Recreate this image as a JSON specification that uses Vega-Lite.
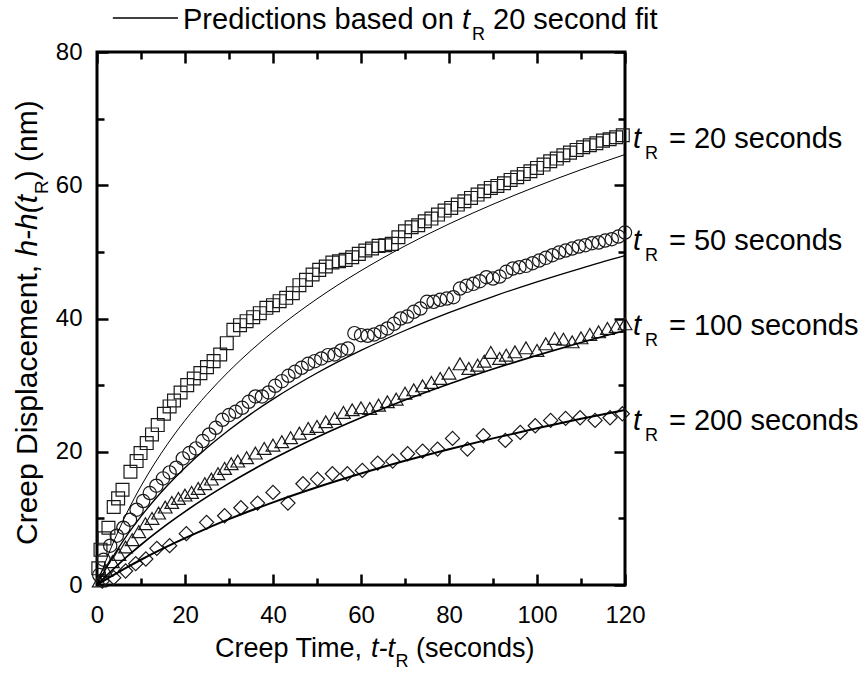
{
  "$schema": "https://vega.github.io/schema/vega-lite/v6.json",
  "width": 528,
  "height": 533,
  "autosize": {"type": "none"},
  "padding": {"left": 97, "top": 52, "right": 236, "bottom": 96},
  "config": {
    "view": {"stroke": "black", "strokeWidth": 3},
    "font": "Liberation Sans",
    "text": {"font": "Liberation Sans", "color": "black"},
    "axis": {"title": null, "domain": false, "grid": false, "tickWidth": 2.5, "tickColor": "black",
      "labelFont": "Liberation Sans", "labelFontSize": 24, "labelColor": "black",
      "labelFlush": false, "labelOverlap": false, "labelBound": false}
  },
  "datasets": {
    "pts": [
      {"s":"20","t":0.3,"v":2.5},{"s":"20","t":0.8,"v":5.3},{"s":"20","t":1.7,"v":7.0},{"s":"20","t":2.6,"v":8.6},{"s":"20","t":3.8,"v":11.7},{"s":"20","t":4.8,"v":13.0},{"s":"20","t":5.8,"v":14.3},{"s":"20","t":7.6,"v":17.0},{"s":"20","t":9.0,"v":18.6},{"s":"20","t":9.9,"v":19.8},{"s":"20","t":11.3,"v":21.3},{"s":"20","t":12.5,"v":22.6},{"s":"20","t":13.8,"v":24.0},{"s":"20","t":15.2,"v":25.7},{"s":"20","t":16.5,"v":26.8},{"s":"20","t":17.5,"v":27.7},{"s":"20","t":19.0,"v":28.9},{"s":"20","t":20.5,"v":30.0},{"s":"20","t":22.0,"v":31.0},{"s":"20","t":23.5,"v":31.8},{"s":"20","t":25.0,"v":32.7},{"s":"20","t":26.5,"v":33.6},{"s":"20","t":28.0,"v":34.6},{"s":"20","t":29.5,"v":36.3},{"s":"20","t":31.0,"v":38.3},{"s":"20","t":32.5,"v":39.0},{"s":"20","t":34.0,"v":39.6},{"s":"20","t":35.5,"v":40.2},{"s":"20","t":37.0,"v":40.8},{"s":"20","t":38.5,"v":41.6},{"s":"20","t":40.0,"v":42.0},{"s":"20","t":41.5,"v":42.6},{"s":"20","t":43.0,"v":43.1},{"s":"20","t":44.5,"v":43.8},{"s":"20","t":46.0,"v":45.0},{"s":"20","t":47.5,"v":45.8},{"s":"20","t":49.0,"v":46.6},{"s":"20","t":50.5,"v":47.3},{"s":"20","t":52.0,"v":47.8},{"s":"20","t":53.5,"v":48.4},{"s":"20","t":55.0,"v":48.6},{"s":"20","t":56.5,"v":48.8},{"s":"20","t":58.0,"v":49.2},{"s":"20","t":59.5,"v":49.7},{"s":"20","t":61.0,"v":50.2},{"s":"20","t":62.5,"v":50.5},{"s":"20","t":64.0,"v":50.9},{"s":"20","t":65.5,"v":51.0},{"s":"20","t":67.0,"v":51.2},{"s":"20","t":68.5,"v":52.2},{"s":"20","t":70.0,"v":53.1},{"s":"20","t":71.5,"v":53.7},{"s":"20","t":73.0,"v":54.0},{"s":"20","t":74.5,"v":54.6},{"s":"20","t":76.0,"v":55.0},{"s":"20","t":77.5,"v":55.6},{"s":"20","t":79.0,"v":56.2},{"s":"20","t":80.5,"v":56.6},{"s":"20","t":82.0,"v":57.1},{"s":"20","t":83.5,"v":57.6},{"s":"20","t":85.0,"v":58.1},{"s":"20","t":86.5,"v":58.6},{"s":"20","t":88.0,"v":59.1},{"s":"20","t":89.5,"v":59.6},{"s":"20","t":91.0,"v":59.9},{"s":"20","t":92.5,"v":60.3},{"s":"20","t":94.0,"v":60.8},{"s":"20","t":95.5,"v":61.2},{"s":"20","t":97.0,"v":61.7},{"s":"20","t":98.5,"v":62.1},{"s":"20","t":100.0,"v":62.6},{"s":"20","t":101.5,"v":63.1},{"s":"20","t":103.0,"v":63.6},{"s":"20","t":104.5,"v":64.0},{"s":"20","t":106.0,"v":64.5},{"s":"20","t":107.5,"v":64.9},{"s":"20","t":109.0,"v":65.3},{"s":"20","t":110.5,"v":65.7},{"s":"20","t":112.0,"v":66.0},{"s":"20","t":113.5,"v":66.3},{"s":"20","t":115.0,"v":66.7},{"s":"20","t":116.5,"v":66.9},{"s":"20","t":118.0,"v":67.2},{"s":"20","t":119.5,"v":67.5},
      {"s":"50","t":0.5,"v":1.5},{"s":"50","t":1.5,"v":3.8},{"s":"50","t":3.0,"v":5.9},{"s":"50","t":4.5,"v":7.4},{"s":"50","t":6.0,"v":8.6},{"s":"50","t":7.5,"v":9.8},{"s":"50","t":9.0,"v":11.3},{"s":"50","t":10.5,"v":12.6},{"s":"50","t":12.0,"v":13.8},{"s":"50","t":13.5,"v":14.9},{"s":"50","t":15.0,"v":16.0},{"s":"50","t":16.5,"v":16.9},{"s":"50","t":18.0,"v":17.6},{"s":"50","t":19.5,"v":19.0},{"s":"50","t":21.0,"v":19.8},{"s":"50","t":22.5,"v":20.5},{"s":"50","t":24.0,"v":21.6},{"s":"50","t":25.5,"v":22.6},{"s":"50","t":27.0,"v":23.6},{"s":"50","t":28.5,"v":24.8},{"s":"50","t":30.0,"v":25.5},{"s":"50","t":31.5,"v":26.0},{"s":"50","t":33.0,"v":26.6},{"s":"50","t":34.5,"v":27.5},{"s":"50","t":36.0,"v":28.3},{"s":"50","t":37.5,"v":28.3},{"s":"50","t":39.0,"v":28.9},{"s":"50","t":40.5,"v":29.9},{"s":"50","t":42.0,"v":30.6},{"s":"50","t":43.5,"v":31.4},{"s":"50","t":45.0,"v":32.0},{"s":"50","t":46.5,"v":32.6},{"s":"50","t":48.0,"v":33.2},{"s":"50","t":49.5,"v":33.6},{"s":"50","t":51.0,"v":34.0},{"s":"50","t":52.5,"v":34.5},{"s":"50","t":54.0,"v":34.6},{"s":"50","t":55.5,"v":35.2},{"s":"50","t":57.0,"v":35.5},{"s":"50","t":58.5,"v":37.8},{"s":"50","t":60.0,"v":37.5},{"s":"50","t":61.5,"v":37.4},{"s":"50","t":63.0,"v":37.6},{"s":"50","t":64.5,"v":38.0},{"s":"50","t":66.0,"v":38.5},{"s":"50","t":67.5,"v":39.2},{"s":"50","t":69.0,"v":40.0},{"s":"50","t":70.5,"v":40.3},{"s":"50","t":72.0,"v":41.0},{"s":"50","t":73.5,"v":41.5},{"s":"50","t":75.0,"v":42.5},{"s":"50","t":76.5,"v":42.5},{"s":"50","t":78.0,"v":42.8},{"s":"50","t":79.5,"v":43.0},{"s":"50","t":81.0,"v":43.2},{"s":"50","t":82.5,"v":44.5},{"s":"50","t":84.0,"v":44.9},{"s":"50","t":85.5,"v":45.2},{"s":"50","t":87.0,"v":45.6},{"s":"50","t":88.5,"v":46.2},{"s":"50","t":90.0,"v":46.0},{"s":"50","t":91.5,"v":46.3},{"s":"50","t":93.0,"v":47.0},{"s":"50","t":94.5,"v":47.5},{"s":"50","t":96.0,"v":47.7},{"s":"50","t":97.5,"v":47.9},{"s":"50","t":99.0,"v":48.3},{"s":"50","t":100.5,"v":48.7},{"s":"50","t":102.0,"v":49.1},{"s":"50","t":103.5,"v":49.5},{"s":"50","t":105.0,"v":49.9},{"s":"50","t":106.5,"v":50.2},{"s":"50","t":108.0,"v":50.5},{"s":"50","t":109.5,"v":50.8},{"s":"50","t":111.0,"v":51.0},{"s":"50","t":112.5,"v":51.3},{"s":"50","t":114.0,"v":51.4},{"s":"50","t":115.5,"v":51.7},{"s":"50","t":117.0,"v":51.9},{"s":"50","t":118.5,"v":52.3},{"s":"50","t":120.0,"v":52.9},
      {"s":"100","t":0.5,"v":0.6},{"s":"100","t":2.0,"v":2.2},{"s":"100","t":3.5,"v":3.5},{"s":"100","t":5.0,"v":4.6},{"s":"100","t":6.5,"v":5.7},{"s":"100","t":8.0,"v":6.8},{"s":"100","t":9.5,"v":8.0},{"s":"100","t":11.0,"v":9.2},{"s":"100","t":12.5,"v":10.0},{"s":"100","t":14.0,"v":10.8},{"s":"100","t":15.5,"v":11.7},{"s":"100","t":17.0,"v":12.4},{"s":"100","t":18.5,"v":13.0},{"s":"100","t":20.0,"v":13.5},{"s":"100","t":21.5,"v":13.9},{"s":"100","t":23.0,"v":14.5},{"s":"100","t":24.5,"v":15.2},{"s":"100","t":26.0,"v":15.9},{"s":"100","t":27.5,"v":16.7},{"s":"100","t":29.0,"v":17.5},{"s":"100","t":30.5,"v":18.2},{"s":"100","t":32.0,"v":18.6},{"s":"100","t":34.0,"v":19.1},{"s":"100","t":36.0,"v":19.8},{"s":"100","t":38.0,"v":20.5},{"s":"100","t":40.0,"v":21.0},{"s":"100","t":42.0,"v":21.5},{"s":"100","t":44.0,"v":22.1},{"s":"100","t":46.0,"v":22.8},{"s":"100","t":48.0,"v":23.5},{"s":"100","t":50.0,"v":23.8},{"s":"100","t":52.0,"v":24.5},{"s":"100","t":54.0,"v":25.0},{"s":"100","t":56.0,"v":25.9},{"s":"100","t":58.0,"v":26.3},{"s":"100","t":60.0,"v":26.6},{"s":"100","t":62.0,"v":26.5},{"s":"100","t":64.0,"v":27.0},{"s":"100","t":66.0,"v":27.5},{"s":"100","t":68.0,"v":27.9},{"s":"100","t":70.0,"v":28.8},{"s":"100","t":72.0,"v":29.3},{"s":"100","t":74.0,"v":29.9},{"s":"100","t":76.0,"v":30.4},{"s":"100","t":78.0,"v":31.0},{"s":"100","t":80.0,"v":31.8},{"s":"100","t":82.5,"v":33.2},{"s":"100","t":84.5,"v":32.5},{"s":"100","t":86.5,"v":33.0},{"s":"100","t":88.0,"v":33.6},{"s":"100","t":89.5,"v":34.9},{"s":"100","t":91.5,"v":34.0},{"s":"100","t":93.0,"v":34.5},{"s":"100","t":95.0,"v":35.0},{"s":"100","t":97.5,"v":35.6},{"s":"100","t":100.0,"v":35.2},{"s":"100","t":102.0,"v":36.2},{"s":"100","t":104.0,"v":37.0},{"s":"100","t":106.0,"v":36.9},{"s":"100","t":108.0,"v":36.5},{"s":"100","t":110.0,"v":37.1},{"s":"100","t":112.0,"v":37.6},{"s":"100","t":114.0,"v":38.0},{"s":"100","t":116.0,"v":38.5},{"s":"100","t":118.0,"v":38.8},{"s":"100","t":120.0,"v":39.2},
      {"s":"200","t":1.2,"v":0.6},{"s":"200","t":3.8,"v":1.1},{"s":"200","t":6.5,"v":2.1},{"s":"200","t":8.8,"v":3.2},{"s":"200","t":11.1,"v":3.9},{"s":"200","t":13.6,"v":5.5},{"s":"200","t":16.5,"v":5.9},{"s":"200","t":20.3,"v":7.7},{"s":"200","t":24.9,"v":9.4},{"s":"200","t":29.0,"v":10.4},{"s":"200","t":32.7,"v":11.6},{"s":"200","t":36.5,"v":12.3},{"s":"200","t":40.0,"v":13.9},{"s":"200","t":43.4,"v":12.3},{"s":"200","t":46.8,"v":15.2},{"s":"200","t":50.1,"v":15.9},{"s":"200","t":53.5,"v":16.7},{"s":"200","t":56.9,"v":16.7},{"s":"200","t":60.3,"v":17.2},{"s":"200","t":63.8,"v":18.3},{"s":"200","t":67.2,"v":18.6},{"s":"200","t":70.6,"v":19.7},{"s":"200","t":74.0,"v":20.1},{"s":"200","t":77.4,"v":20.4},{"s":"200","t":80.8,"v":22.0},{"s":"200","t":84.2,"v":20.4},{"s":"200","t":87.8,"v":22.4},{"s":"200","t":92.8,"v":21.7},{"s":"200","t":96.2,"v":22.9},{"s":"200","t":99.6,"v":23.9},{"s":"200","t":103.1,"v":24.7},{"s":"200","t":106.5,"v":25.0},{"s":"200","t":109.8,"v":25.1},{"s":"200","t":113.2,"v":24.7},{"s":"200","t":116.6,"v":25.1},{"s":"200","t":119.4,"v":25.7}
    ],
    "fits": [
      {"s":"20","t":0,"v":0},{"s":"20","t":1,"v":1.86},{"s":"20","t":2,"v":3.61},{"s":"20","t":3,"v":5.27},{"s":"20","t":5,"v":8.33},{"s":"20","t":7,"v":11.11},{"s":"20","t":10,"v":14.84},{"s":"20","t":13,"v":18.15},{"s":"20","t":16,"v":21.13},{"s":"20","t":20,"v":24.7},{"s":"20","t":25,"v":28.62},{"s":"20","t":30,"v":32.09},{"s":"20","t":35,"v":35.2},{"s":"20","t":40,"v":38.01},{"s":"20","t":50,"v":42.95},{"s":"20","t":60,"v":47.18},{"s":"20","t":70,"v":50.89},{"s":"20","t":80,"v":54.19},{"s":"20","t":90,"v":57.15},{"s":"20","t":100,"v":59.85},{"s":"20","t":110,"v":62.33},{"s":"20","t":120,"v":64.61},
      {"s":"50","t":0,"v":0},{"s":"50","t":1,"v":1.24},{"s":"50","t":2,"v":2.42},{"s":"50","t":3,"v":3.55},{"s":"50","t":5,"v":5.67},{"s":"50","t":7,"v":7.62},{"s":"50","t":10,"v":10.3},{"s":"50","t":13,"v":12.72},{"s":"50","t":16,"v":14.93},{"s":"50","t":20,"v":17.61},{"s":"50","t":25,"v":20.6},{"s":"50","t":30,"v":23.27},{"s":"50","t":35,"v":25.69},{"s":"50","t":40,"v":27.9},{"s":"50","t":50,"v":31.82},{"s":"50","t":60,"v":35.21},{"s":"50","t":70,"v":38.2},{"s":"50","t":80,"v":40.88},{"s":"50","t":90,"v":43.3},{"s":"50","t":100,"v":45.51},{"s":"50","t":110,"v":47.54},{"s":"50","t":120,"v":49.43},
      {"s":"100","t":0,"v":0},{"s":"100","t":1,"v":0.67},{"s":"100","t":2,"v":1.32},{"s":"100","t":3,"v":1.95},{"s":"100","t":5,"v":3.18},{"s":"100","t":7,"v":4.36},{"s":"100","t":10,"v":6.04},{"s":"100","t":13,"v":7.63},{"s":"100","t":16,"v":9.14},{"s":"100","t":20,"v":11.02},{"s":"100","t":25,"v":13.22},{"s":"100","t":30,"v":15.25},{"s":"100","t":35,"v":17.15},{"s":"100","t":40,"v":18.94},{"s":"100","t":50,"v":22.19},{"s":"100","t":60,"v":25.11},{"s":"100","t":70,"v":27.76},{"s":"100","t":80,"v":30.18},{"s":"100","t":90,"v":32.41},{"s":"100","t":100,"v":34.47},{"s":"100","t":110,"v":36.4},{"s":"100","t":120,"v":38.2},
      {"s":"200","t":0,"v":0},{"s":"200","t":1,"v":0.41},{"s":"200","t":2,"v":0.81},{"s":"200","t":3,"v":1.21},{"s":"200","t":5,"v":1.98},{"s":"200","t":7,"v":2.72},{"s":"200","t":10,"v":3.79},{"s":"200","t":13,"v":4.82},{"s":"200","t":16,"v":5.8},{"s":"200","t":20,"v":7.04},{"s":"200","t":25,"v":8.51},{"s":"200","t":30,"v":9.88},{"s":"200","t":35,"v":11.18},{"s":"200","t":40,"v":12.41},{"s":"200","t":50,"v":14.68},{"s":"200","t":60,"v":16.74},{"s":"200","t":70,"v":18.64},{"s":"200","t":80,"v":20.38},{"s":"200","t":90,"v":22.01},{"s":"200","t":100,"v":23.52},{"s":"200","t":110,"v":24.94},{"s":"200","t":120,"v":26.28}
    ],
    "rlabels": [
      {"label": "= 20 seconds", "y": 65.6},
      {"label": "= 50 seconds", "y": 50.3},
      {"label": "= 100 seconds", "y": 37.5},
      {"label": "= 200 seconds", "y": 23.3}
    ],
    "one": [{}]
  },
  "layer": [
    {
      "data": {"name": "pts"},
      "mark": {"type": "point", "filled": false, "stroke": "#1a1a1a", "strokeWidth": 1.2, "opacity": 1},
      "encoding": {
        "x": {"field": "t", "type": "quantitative",
          "scale": {"domain": [0, 120], "nice": false, "zero": false},
          "axis": {"orient": "bottom", "values": [0,20,40,60,80,100,120],
            "offset": -11, "tickSize": 11, "labelPadding": 18}},
        "y": {"field": "v", "type": "quantitative",
          "scale": {"domain": [0, 80], "nice": false, "zero": false},
          "axis": {"orient": "left", "values": [0,20,40,60,80],
            "offset": -11, "tickSize": 11, "labelPadding": 15}},
        "shape": {"field": "s", "type": "nominal",
          "scale": {"domain": ["20","50","100","200"], "range": ["square","circle","triangle-up","diamond"]},
          "legend": null},
        "size": {"field": "s", "type": "nominal",
          "scale": {"domain": ["20","50","100","200"], "range": [165, 200, 225, 265]},
          "legend": null}
      }
    },
    {
      "data": {"name": "fits"},
      "mark": {"type": "line", "color": "black", "interpolate": "monotone"},
      "encoding": {
        "x": {"field": "t", "type": "quantitative",
          "axis": {"orient": "top", "labels": false, "values": [0,20,40,60,80,100,120],
            "offset": -11, "tickSize": 11}},
        "y": {"field": "v", "type": "quantitative",
          "axis": {"orient": "right", "labels": false, "values": [0,20,40,60,80],
            "offset": -11, "tickSize": 11}},
        "detail": {"field": "s", "type": "nominal"},
        "strokeWidth": {"field": "s", "type": "ordinal",
          "scale": {"domain": ["20","50","100","200"], "range": [1, 2, 2, 2]},
          "legend": null}
      }
    },
    {
      "data": {"name": "one"},
      "mark": {"type": "rule", "color": "black", "strokeWidth": 1.5},
      "encoding": {
        "x": {"datum": 3.6, "type": "quantitative",
          "axis": {"orient": "bottom", "labels": false, "values": [10,30,50,70,90,110],
            "offset": -7, "tickSize": 7}},
        "x2": {"datum": 18.4},
        "y": {"datum": 85.1, "type": "quantitative",
          "axis": {"orient": "left", "labels": false, "values": [10,30,50,70],
            "offset": -7, "tickSize": 7}}
      }
    },
    {
      "data": {"name": "one"},
      "mark": {"type": "text", "text": "Predictions based on", "align": "left", "baseline": "alphabetic", "fontSize": 29, "dx": 86, "dy": -23.5},
      "encoding": {
        "x": {"datum": 0, "type": "quantitative",
          "axis": {"orient": "top", "labels": false, "values": [10,30,50,70,90,110],
            "offset": -7, "tickSize": 7}},
        "y": {"datum": 80, "type": "quantitative",
          "axis": {"orient": "right", "labels": false, "values": [10,30,50,70],
            "offset": -7, "tickSize": 7}}
      }
    },
    {
      "data": {"name": "one"},
      "mark": {"type": "text", "text": "t", "align": "left", "baseline": "alphabetic", "fontSize": 29, "fontStyle": "italic", "dx": 365, "dy": -23.5},
      "encoding": {"x": {"datum": 0, "type": "quantitative", "axis": null}, "y": {"datum": 80, "type": "quantitative", "axis": null}}
    },
    {
      "data": {"name": "one"},
      "mark": {"type": "text", "text": "R", "align": "left", "baseline": "alphabetic", "fontSize": 18, "dx": 375, "dy": -12.5},
      "encoding": {"x": {"datum": 0, "type": "quantitative", "axis": null}, "y": {"datum": 80, "type": "quantitative", "axis": null}}
    },
    {
      "data": {"name": "one"},
      "mark": {"type": "text", "text": "20 second fit", "align": "left", "baseline": "alphabetic", "fontSize": 29, "dx": 396, "dy": -23.5},
      "encoding": {"x": {"datum": 0, "type": "quantitative", "axis": null}, "y": {"datum": 80, "type": "quantitative", "axis": null}}
    },
    {
      "data": {"name": "rlabels"},
      "mark": {"type": "text", "text": "t", "align": "left", "baseline": "alphabetic", "fontSize": 29, "fontStyle": "italic", "dx": 8},
      "encoding": {"x": {"datum": 120, "type": "quantitative", "axis": null}, "y": {"field": "y", "type": "quantitative", "axis": null}}
    },
    {
      "data": {"name": "rlabels"},
      "mark": {"type": "text", "text": "R", "align": "left", "baseline": "alphabetic", "fontSize": 18, "dx": 20, "dy": 11},
      "encoding": {"x": {"datum": 120, "type": "quantitative", "axis": null}, "y": {"field": "y", "type": "quantitative", "axis": null}}
    },
    {
      "data": {"name": "rlabels"},
      "mark": {"type": "text", "align": "left", "baseline": "alphabetic", "fontSize": 29, "dx": 44},
      "encoding": {"x": {"datum": 120, "type": "quantitative", "axis": null}, "y": {"field": "y", "type": "quantitative", "axis": null}, "text": {"field": "label"}}
    },
    {
      "data": {"name": "one"},
      "mark": {"type": "text", "text": "Creep Time,", "align": "left", "baseline": "alphabetic", "fontSize": 27, "dx": -146, "dy": 72},
      "encoding": {"x": {"datum": 60, "type": "quantitative", "axis": null}, "y": {"datum": 0, "type": "quantitative", "axis": null}}
    },
    {
      "data": {"name": "one"},
      "mark": {"type": "text", "text": "t-t", "align": "left", "baseline": "alphabetic", "fontSize": 27, "fontStyle": "italic", "dx": 10, "dy": 72},
      "encoding": {"x": {"datum": 60, "type": "quantitative", "axis": null}, "y": {"datum": 0, "type": "quantitative", "axis": null}}
    },
    {
      "data": {"name": "one"},
      "mark": {"type": "text", "text": "R", "align": "left", "baseline": "alphabetic", "fontSize": 18, "dx": 34.5, "dy": 82},
      "encoding": {"x": {"datum": 60, "type": "quantitative", "axis": null}, "y": {"datum": 0, "type": "quantitative", "axis": null}}
    },
    {
      "data": {"name": "one"},
      "mark": {"type": "text", "text": "(seconds)", "align": "left", "baseline": "alphabetic", "fontSize": 27, "dx": 55, "dy": 72},
      "encoding": {"x": {"datum": 60, "type": "quantitative", "axis": null}, "y": {"datum": 0, "type": "quantitative", "axis": null}}
    },
    {
      "data": {"name": "one"},
      "mark": {"type": "text", "text": "Creep Displacement,", "align": "left", "baseline": "alphabetic", "fontSize": 30, "angle": 270, "dx": -226.5, "dy": -60},
      "encoding": {"x": {"datum": 0, "type": "quantitative", "axis": null}, "y": {"datum": 40, "type": "quantitative", "axis": null}}
    },
    {
      "data": {"name": "one"},
      "mark": {"type": "text", "text": "h-h(t", "align": "left", "baseline": "alphabetic", "fontSize": 30, "fontStyle": "italic", "angle": 270, "dx": 61.9, "dy": -60},
      "encoding": {"x": {"datum": 0, "type": "quantitative", "axis": null}, "y": {"datum": 40, "type": "quantitative", "axis": null}}
    },
    {
      "data": {"name": "one"},
      "mark": {"type": "text", "text": "R", "align": "left", "baseline": "alphabetic", "fontSize": 19, "angle": 270, "dx": 124.5, "dy": -49},
      "encoding": {"x": {"datum": 0, "type": "quantitative", "axis": null}, "y": {"datum": 40, "type": "quantitative", "axis": null}}
    },
    {
      "data": {"name": "one"},
      "mark": {"type": "text", "text": ") (nm)", "align": "left", "baseline": "alphabetic", "fontSize": 30, "angle": 270, "dx": 138.2, "dy": -60},
      "encoding": {"x": {"datum": 0, "type": "quantitative", "axis": null}, "y": {"datum": 40, "type": "quantitative", "axis": null}}
    }
  ],
  "resolve": {"axis": {"x": "independent", "y": "independent"}}
}
